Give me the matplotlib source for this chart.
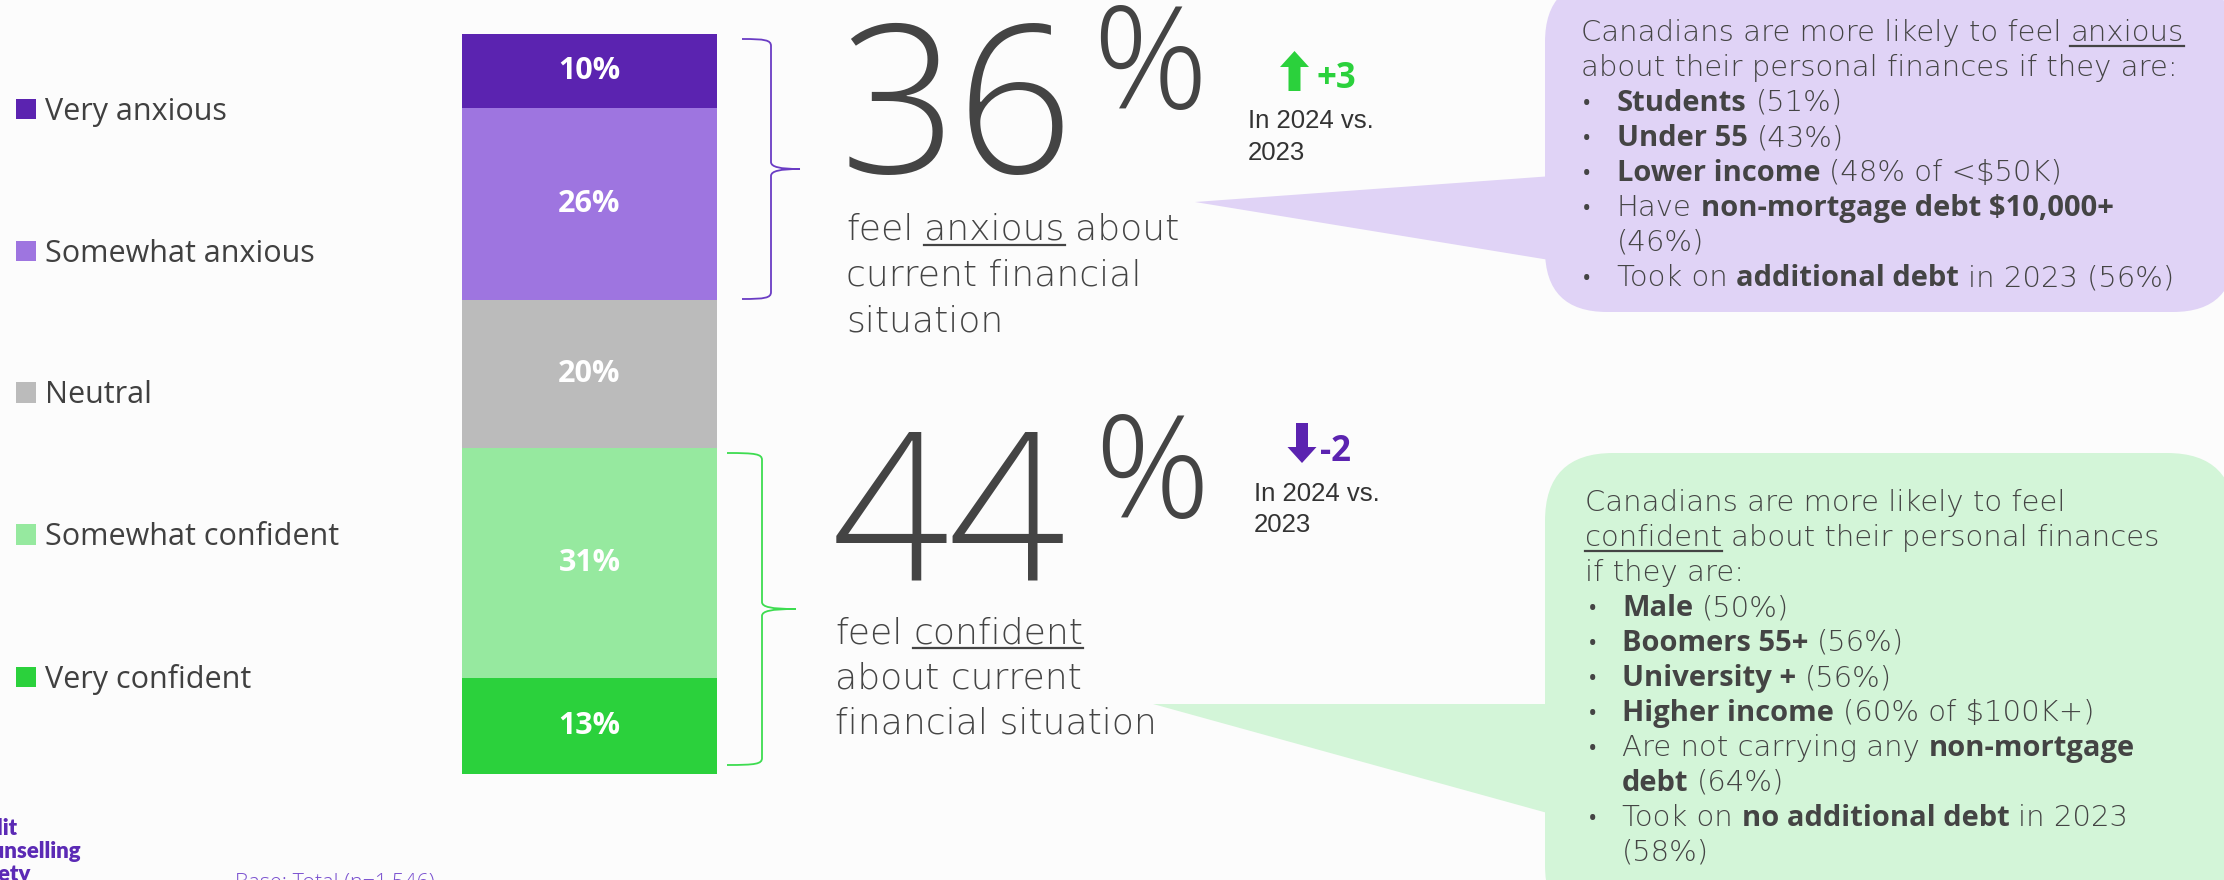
import matplotlib
matplotlib.use("Agg")
import matplotlib.pyplot as plt
from matplotlib.patches import FancyBboxPatch, Polygon, FancyArrow, PathPatch
from matplotlib.path import Path
from matplotlib.lines import Line2D

W, H, DPI = 2224, 880, 100

# ---- data ----
categories = ["Very anxious", "Somewhat anxious", "Neutral", "Somewhat confident", "Very confident"]
shares = [10, 26, 20, 31, 13]
seg_colors = ["#5b23b0", "#9e75e0", "#bbbbbb", "#96e99f", "#2bd13c"]

anxious_total = 36
anxious_change = "+3"
confident_total = 44
confident_change = "-2"
compare_label = ["In 2024 vs.", "2023"]

anxious_desc = [[("feel", "n"), (" anxious", "u"), (" about", "n")],
                [("current financial", "n")],
                [("situation", "n")]]
confident_desc = [[("feel", "n"), (" confident", "u")],
                  [("about current", "n")],
                  [("financial situation", "n")]]

# (bullet?, parts)  True = bullet, None = indented continuation
anxious_box = [
    (False, [("Canadians are more likely to feel", "n"), (" anxious", "u")]),
    (False, [("about their personal finances if they are:", "n")]),
    (True, [("Students", "b"), (" (51%)", "n")]),
    (True, [("Under 55", "b"), (" (43%)", "n")]),
    (True, [("Lower income", "b"), (r" (48% of <\$50K)", "n")]),
    (True, [("Have", "n"), (r" non-mortgage debt \$10,000+", "b")]),
    (None, [("(46%)", "n")]),
    (True, [("Took on", "n"), (" additional debt", "b"), (" in 2023 (56%)", "n")]),
]
confident_box = [
    (False, [("Canadians are more likely to feel", "n")]),
    (False, [("confident", "u"), (" about their personal finances", "n")]),
    (False, [("if they are:", "n")]),
    (True, [("Male", "b"), (" (50%)", "n")]),
    (True, [("Boomers 55+", "b"), (" (56%)", "n")]),
    (True, [("University +", "b"), (" (56%)", "n")]),
    (True, [("Higher income", "b"), (r" (60% of \$100K+)", "n")]),
    (True, [("Are not carrying any", "n"), (" non-mortgage", "b")]),
    (None, [("debt", "b"), (" (64%)", "n")]),
    (True, [("Took on", "n"), (" no additional debt", "b"), (" in 2023", "n")]),
    (None, [("(58%)", "n")]),
]

# ---- style ----
BG = "#fcfcfc"
TEXT = "#444444"
PURPLE = "#5b23b0"
GREEN = "#2bd13c"
PURPLE_BOX = "#e0d3f6"
GREEN_BOX = "#d3f5d8"
UI = ["Open Sans", "DejaVu Sans"]
WIDE = ["DejaVu Sans"]
NARROW = ["Liberation Sans Narrow", "Liberation Sans", "DejaVu Sans"]
LOGO = ["Lato", "DejaVu Sans"]

fig = plt.figure(figsize=(W / DPI, H / DPI), dpi=DPI, facecolor=BG)
bg = fig.add_axes([0, 0, 1, 1])
bg.set_xlim(0, W)
bg.set_ylim(H, 0)
bg.axis("off")

underlined = []


def rich_line(x, y, parts, size, bold_size=None, color=TEXT):
    """Draw one line made of regular / bold / underlined pieces on a shared baseline."""
    bold_size = bold_size or size
    prev = None
    space = size * 0.30 * DPI / 72
    for s, style in parts:
        g = space if s.startswith(" ") else 0
        txt = s.strip()
        if style == "b":
            kw = dict(fontsize=bold_size, family=UI, fontweight="bold")
        else:
            kw = dict(fontsize=size, family=WIDE, fontweight="light")
        if prev is None:
            t = bg.text(x, y, txt, ha="left", va="baseline", color=color, **kw)
        else:
            t = bg.annotate(txt, xy=(1, y), xycoords=(prev, "data"), xytext=(g, 0),
                            textcoords="offset pixels", ha="left", va="baseline",
                            color=color, **kw)
        if style == "u":
            underlined.append((t, y, color))
        prev = t


def brace(x_end, x_mid, x_tip, y_top, y_tip, y_bot, color):
    verts = [(x_end, y_top), (x_mid - 6, y_top), (x_mid, y_top + 1), (x_mid, y_top + 7),
             (x_mid, y_tip - 7),
             (x_mid, y_tip - 2), (x_mid + 9, y_tip), (x_tip, y_tip),
             (x_mid + 9, y_tip), (x_mid, y_tip + 2), (x_mid, y_tip + 7),
             (x_mid, y_bot - 7),
             (x_mid, y_bot - 1), (x_mid - 6, y_bot), (x_end, y_bot)]
    codes = [Path.MOVETO, Path.CURVE4, Path.CURVE4, Path.CURVE4, Path.LINETO,
             Path.CURVE4, Path.CURVE4, Path.CURVE4, Path.CURVE4, Path.CURVE4, Path.CURVE4,
             Path.LINETO, Path.CURVE4, Path.CURVE4, Path.CURVE4]
    bg.add_patch(PathPatch(Path(verts, codes), fill=False, edgecolor=color, lw=1.3))


# ---- stacked bar ----
ax = fig.add_axes([462 / W, 1 - 774 / H, 255 / W, 740 / H])
ax.patch.set_alpha(0)
bottom = 0
bars = []
for cat, v, c in zip(categories, shares, seg_colors):
    b = ax.bar(0, v, bottom=bottom, width=1.0, color=c, label=cat)
    ax.bar_label(b, labels=[f"{v}%"], label_type="center", color="white",
                 fontsize=22, fontweight="bold", family=UI)
    bars.append(b)
    bottom += v
ax.set_xlim(-0.5, 0.5)
ax.set_ylim(100, 0)
ax.axis("off")

ax.legend(handles=bars, labels=categories, loc="upper left",
          bbox_to_anchor=(16 / W, 1 - 97 / H), bbox_transform=fig.transFigure,
          frameon=False, prop={"family": UI, "size": 22}, labelcolor="#404040",
          labelspacing=3.655, handlelength=0.65, handleheight=0.65,
          handletextpad=0.3, borderpad=0, borderaxespad=0)

# braces
brace(742, 771, 800, 39, 169, 299, "#6a3cc4")
brace(727, 762, 796, 453, 609, 765, "#3ddc50")

# ---- callout boxes ----
bg.add_patch(Polygon([(1195, 202), (1580, 174), (1580, 265)], closed=True,
                     facecolor=PURPLE_BOX, edgecolor="none", zorder=0.5))
bg.add_patch(FancyBboxPatch((1545, -20), 690, 332, boxstyle="round,pad=0,rounding_size=62",
                            facecolor=PURPLE_BOX, edgecolor="none", zorder=0.6))
bg.add_patch(Polygon([(1153, 704), (1580, 704), (1580, 822)], closed=True,
                     facecolor=GREEN_BOX, edgecolor="none", zorder=0.5))
bg.add_patch(FancyBboxPatch((1545, 453), 690, 480, boxstyle="round,pad=0,rounding_size=68",
                            facecolor=GREEN_BOX, edgecolor="none", zorder=0.6))


def box_text(lines, x_text, x_bullet, x_indent, y0, pitch, size, bold_size):
    for i, (bul, parts) in enumerate(lines):
        y = y0 + i * pitch
        if bul is True:
            bg.text(x_bullet, y, "\u2022", fontsize=size * 0.85, color=TEXT, family=UI,
                    ha="left", va="baseline")
        rich_line(x_text if bul is False else x_indent, y, parts, size, bold_size)


box_text(anxious_box, 1581, 1582, 1617, 41, 35, 21, 21)
box_text(confident_box, 1585, 1588, 1622, 511, 35, 21, 21)

# ---- headline numbers ----
for total, chg, desc, xn, yb, xp, yp, xa, ya, dy, acol, xc, yc, xl, xd, yd in [
    (anxious_total, anxious_change, anxious_desc, 840, 173, 1092, 108,
     1294.5, 91, -40, GREEN, 1316, 88, 1248, 846, 240),
    (confident_total, confident_change, confident_desc, 832, 580, 1094, 517,
     1302, 423, 40, PURPLE, 1320, 461, 1254, 835, 643),
]:
    bg.text(xn, yb, f"{total}", fontsize=148, color=TEXT, family=UI, fontweight="light",
            ha="left", va="baseline")
    bg.text(xp, yp, "%", fontsize=103, color=TEXT, family=UI, fontweight="light",
            ha="left", va="baseline")
    bg.add_patch(FancyArrow(xa, ya, 0, dy, width=12, head_width=29, head_length=16,
                            length_includes_head=True, color=acol, lw=0))
    bg.text(xc, yc, chg, fontsize=25, color=acol, family=UI, fontweight="bold",
            ha="left", va="baseline")
    for j, s in enumerate(compare_label):
        bg.text(xl, yc + 40 + j * 31.5, s, fontsize=18.5, color="#333333",
                family=NARROW, ha="left", va="baseline")
    for j, parts in enumerate(desc):
        rich_line(xd, yd + j * 45.5, parts, 26)

# ---- footer ----
for s, xr, yb in [("Credit", 17, 835), ("Counselling", 81, 858), ("Society", 31, 881)]:
    bg.text(xr, yb, s, fontsize=16, color="#5b2ab5", family=LOGO, fontweight="heavy",
            ha="right", va="baseline")
bg.text(235, 872, "Base: Total (n=1,546)", fontsize=15.5, color="#7b52d0", family=UI,
        fontweight="light", ha="left", va="top")

# underlines
fig.canvas.draw()
inv = bg.transData.inverted()
for t, y, col in underlined:
    bb = t.get_window_extent()
    x0 = inv.transform((bb.x0, 0))[0]
    x1 = inv.transform((bb.x1, 0))[0]
    bg.add_line(Line2D([x0, x1], [y + 5, y + 5], color=col, lw=1.6))

fig.savefig("out.png", dpi=DPI, facecolor=BG)
